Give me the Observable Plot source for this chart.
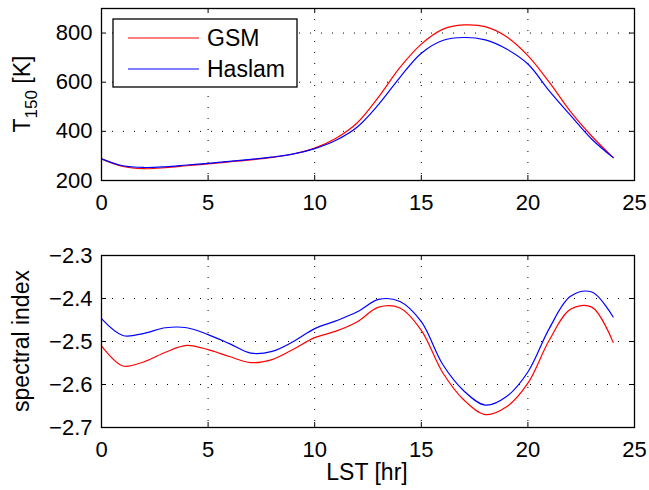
<!DOCTYPE html>
<html>
<head>
<meta charset="utf-8">
<script src="https://cdn.jsdelivr.net/npm/d3@7"></script>
<script src="https://cdn.jsdelivr.net/npm/@observablehq/plot@0.6"></script>
<style>
  body { margin: 0; background: white; }
  #chart { position: relative; width: 649px; height: 490px; background: white; }
  #chart svg { display: block; }
</style>
</head>
<body>
<div id="chart"></div>
<script>
// ---- data ----
const lst = [0,1,2,3,4,5,6,7,8,9,10,11,12,13,14,15,16,17,18,19,20,21,22,23,24];
const tGSM = [288,257,248,252,260,268,276,284,294,308,332,372,435,540,660,755,815,833,826,785,708,600,480,380,293];
const tHaslam = [288,260,253,256,263,270,278,286,295,308,330,364,418,510,620,718,770,782,772,735,674,565,465,368,293];
const siGSM = [-2.510,-2.557,-2.547,-2.525,-2.509,-2.519,-2.535,-2.549,-2.542,-2.518,-2.491,-2.476,-2.454,-2.420,-2.422,-2.474,-2.572,-2.636,-2.670,-2.652,-2.597,-2.497,-2.425,-2.420,-2.502];
const siHaslam = [-2.447,-2.486,-2.481,-2.468,-2.468,-2.484,-2.505,-2.527,-2.523,-2.500,-2.470,-2.452,-2.431,-2.402,-2.407,-2.454,-2.553,-2.615,-2.648,-2.628,-2.571,-2.470,-2.395,-2.385,-2.443];
const seriesNames = ["GSM", "Haslam"];
const seriesColors = ["#ff0000", "#0000ff"];
const xTicks = [0,5,10,15,20,25];
const yTicksTop = [200,400,600,800];
const yTicksBottom = [-2.7,-2.6,-2.5,-2.4,-2.3];
const xLabel = "LST [hr]";
const yLabelBottom = "spectral index";

const topData = lst.flatMap((h,i) => [
  {lst: h, v: tGSM[i], s: seriesNames[0]},
  {lst: h, v: tHaslam[i], s: seriesNames[1]}
]);
const botData = lst.flatMap((h,i) => [
  {lst: h, v: siGSM[i], s: seriesNames[0]},
  {lst: h, v: siHaslam[i], s: seriesNames[1]}
]);

const FONT = "'Liberation Sans', Arial, Helvetica, sans-serif";
const W = 649, ML = 101, MR = 15;

function panel({data, yDomain, yTicks, height, mt, mb, yFmt}) {
  const innerH = height - mt - mb;
  const innerW = W - ML - MR;
  const grid = {stroke: "black", strokeOpacity: 1, strokeWidth: 1, strokeDasharray: "1,10"};
  const marks = [
    Plot.gridX(xTicks, grid),
    Plot.gridY(yTicks, grid),
    Plot.tickX(xTicks, {x: d => d, insetTop: innerH - 5, stroke: "black"}),
    Plot.tickX(xTicks, {x: d => d, insetBottom: innerH - 5, stroke: "black"}),
    Plot.tickY(yTicks, {y: d => d, insetRight: innerW - 5, stroke: "black"}),
    Plot.tickY(yTicks, {y: d => d, insetLeft: innerW - 5, stroke: "black"}),
    Plot.axisX(xTicks, {tickSize: 0, tickPadding: 14, label: null, tickFormat: d => String(d), fontSize: 22}),
    Plot.axisY(yTicks, {tickSize: 0, tickPadding: 9, label: null, tickFormat: yFmt, fontSize: 22}),
  ];
  seriesNames.forEach((name, i) => {
    marks.push(Plot.line(data.filter(d => d.s === name), {
      x: "lst", y: "v", stroke: seriesColors[i], strokeWidth: 1.2, curve: "catmull-rom"
    }));
  });
  marks.push(Plot.frame({stroke: "black", strokeWidth: 1.3}));
  return Plot.plot({
    width: W, height,
    marginLeft: ML, marginRight: MR, marginTop: mt, marginBottom: mb,
    x: {domain: [0, 25]},
    y: {domain: yDomain},
    style: {fontFamily: FONT, fontSize: "22px", color: "black", background: "white", overflow: "visible"},
    marks
  });
}

const topSvg = panel({data: topData, yDomain: [200, 900], yTicks: yTicksTop, height: 230, mt: 8, mb: 50, yFmt: d => String(d)});
const botSvg = panel({data: botData, yDomain: [-2.7, -2.3], yTicks: yTicksBottom, height: 260, mt: 25, mb: 63, yFmt: d3.format(".1f")});

const chart = document.getElementById("chart");
chart.appendChild(topSvg);
chart.appendChild(botSvg);

// y label top: T_150 [K]
const st = d3.select(topSvg);
const tl = st.append("text")
  .attr("transform", "translate(30,94) rotate(-90)")
  .attr("text-anchor", "middle")
  .attr("font-family", FONT).attr("font-size", 23).attr("fill", "black");
tl.append("tspan").text("T");
tl.append("tspan").attr("dy", 7).attr("font-size", 17).text("150");
tl.append("tspan").attr("dy", -7).text(" [K]");

// legend
const lg = st.append("g").attr("font-family", FONT).attr("font-size", 23).attr("text-anchor", "start");
lg.append("rect").attr("x", 113).attr("y", 19).attr("width", 184).attr("height", 68)
  .attr("fill", "white").attr("stroke", "black").attr("stroke-width", 1.3);
seriesNames.forEach((name, i) => {
  const cy = 38 + i * 31;
  lg.append("line").attr("x1", 128).attr("x2", 199).attr("y1", cy).attr("y2", cy)
    .attr("stroke", seriesColors[i]).attr("stroke-width", 1.2);
  lg.append("text").attr("x", 207).attr("y", cy).attr("dy", "0.36em")
    .attr("text-anchor", "start").attr("fill", "black").text(name);
});

// bottom labels
const sb = d3.select(botSvg);
sb.append("text")
  .attr("transform", "translate(29,111) rotate(-90)")
  .attr("text-anchor", "middle")
  .attr("font-family", FONT).attr("font-size", 23).attr("fill", "black")
  .text(yLabelBottom);
sb.append("text")
  .attr("x", 367).attr("y", 250)
  .attr("text-anchor", "middle")
  .attr("font-family", FONT).attr("font-size", 23).attr("fill", "black")
  .text(xLabel);
</script>
</body>
</html>
